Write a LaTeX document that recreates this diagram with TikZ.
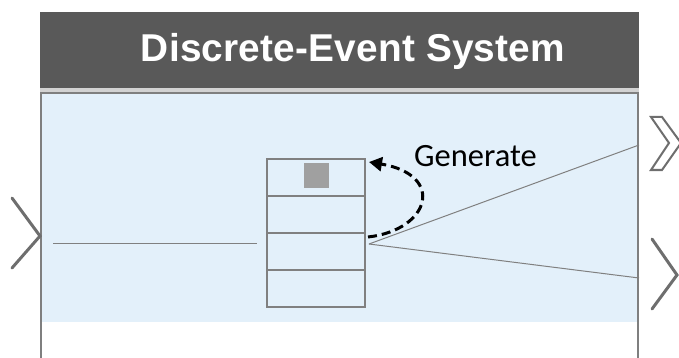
\documentclass[tikz,border=0pt]{standalone}
\usepackage{fontspec}
\usetikzlibrary{arrows.meta,calc}
\newfontfamily\hdrfont[LetterSpace=0.5]{Liberation Sans}
\newfontfamily\genfont{Carlito}
\definecolor{hdrgray}{HTML}{595959}
\definecolor{stripgray}{HTML}{D2D2D2}
\definecolor{bodyblue}{HTML}{E3F0FA}
\definecolor{framegray}{HTML}{7F7F7F}
\definecolor{cellgray}{HTML}{808080}
\definecolor{sqgray}{HTML}{A0A0A0}
\definecolor{chevgray}{HTML}{6E6E6E}
\tikzset{
  cellbox/.style={draw=cellgray, line width=2pt, minimum width=98pt, minimum height=37pt, inner sep=0pt, outer sep=0pt},
  wire/.style={draw=cellgray, line width=1pt},
  chev/.style={draw=chevgray, line width=3pt, line cap=round, line join=miter},
  genarrow/.style={draw=black, line width=3pt, dash pattern=on 9pt off 5pt, -{Triangle[length=13pt,width=14pt]}}
}
\begin{document}
\begin{tikzpicture}[x=1pt,y=-1pt]
\useasboundingbox (0,0) rectangle (679,358);
% header
\fill[hdrgray] (40,12) rectangle (639,88);
\fill[stripgray] (40,88) rectangle (639,92);
\node[anchor=base, inner sep=0pt, text=white, font=\hdrfont\bfseries\fontsize{38.8}{42}\selectfont] (hdr) at (353,62) {Discrete-Event System};
% body
\fill[bodyblue] (41,93) rectangle (638,322);
\draw[framegray, line width=2pt] (41,358) -- (41,93) -- (638,93) -- (638,358);
% stack
\node[cellbox] (c1) at (316,177.5) {};
\node[cellbox] (c2) at (316,214.5) {};
\node[cellbox] (c3) at (316,251.5) {};
\node[cellbox] (c4) at (316,288.5) {};
\node[fill=sqgray, minimum width=25pt, minimum height=25pt, inner sep=0pt] (sq) at (316.5,175.5) {};
% connectors
\coordinate (inL) at (53,243);
\coordinate (so) at (369,244);
\coordinate (out1) at (639,145);
\coordinate (out2) at (639,278);
\draw[wire] (inL) -- ([xshift=-10pt]c3.west |- inL);
\draw[wire] (so) -- (out1);
\draw[wire] (so) -- (out2);
% generate arrow
\coordinate (gs) at (368,237);
\coordinate (ge) at (369,162);
\draw[genarrow] (gs) .. controls (430,230) and (446,175) .. (ge);
\node[anchor=base west, inner sep=0pt, font=\genfont\fontsize{32.5}{36}\selectfont] (gen) at (414,167) {Generate};
% ports
\draw[chev] (12,198) -- (40,236) -- (12,268);
\draw[chev] (652,239) -- (677,275) -- (652,309);
\draw[draw=chevgray, line width=2pt, fill=white, line join=miter] (651,117) -- (662,117) -- (681,143) -- (662,170) -- (651,170) -- (669,143) -- cycle;
\end{tikzpicture}
\end{document}
